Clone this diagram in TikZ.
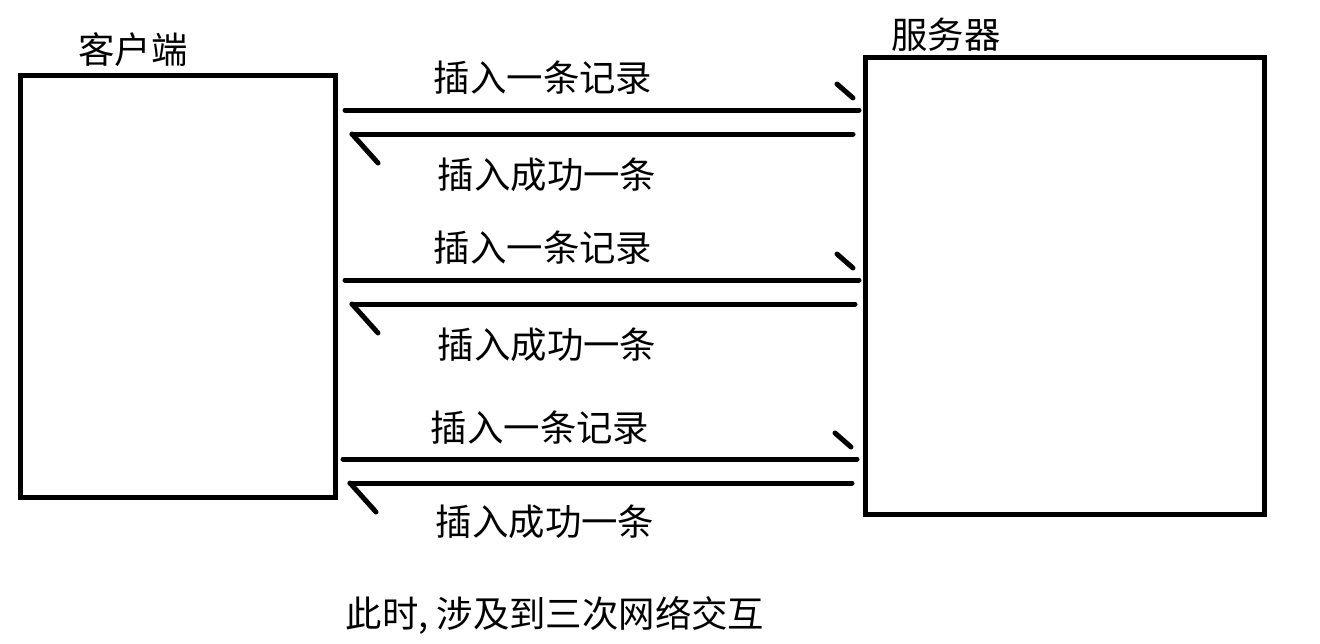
\documentclass[tikz,border=0pt]{standalone}
\usepackage{fontspec}
\setmainfont{Noto Sans CJK SC}
\begin{document}
\begin{tikzpicture}[x=0.75pt,y=-0.75pt,
  box/.style={draw,line width=3.75pt,inner sep=0pt},
  lbl/.style={inner sep=0pt,font=\fontsize{27.3}{31}\selectfont},
  msg/.style={line width=3.75pt,line cap=round},
  tip/.style={line width=3.75pt,line cap=round}]
\useasboundingbox (0,0) rectangle (1320,643);
\node[box,minimum width=236.25pt,minimum height=316.5pt] (client) at (178,286) {};
\node[box,minimum width=299.25pt,minimum height=342.4pt] (server) at (1064.5,286.25) {};
\node[lbl] (lc) at (133,50) {客户端};
\node[lbl] (ls) at (946,35) {服务器};
% row 1
\coordinate (r1a) at (345,110); \coordinate (r1b) at (859,110);
\coordinate (l1a) at (853,134); \coordinate (l1b) at (352,134);
% row 2
\coordinate (r2a) at (345,280); \coordinate (r2b) at (859,280);
\coordinate (l2a) at (855,304); \coordinate (l2b) at (352,304);
% row 3
\coordinate (r3a) at (343,459); \coordinate (r3b) at (857,459);
\coordinate (l3a) at (852,483); \coordinate (l3b) at (350,483);
\foreach \i in {1,2,3}{
  \draw[msg] (r\i a) -- (r\i b);
  \draw[tip] ([shift={(-22,-26)}]r\i b) -- ([shift={(-6,-12)}]r\i b);
  \draw[msg] (l\i a) -- (l\i b);
  \draw[tip] (l\i b) -- ([shift={(26,29)}]l\i b);
}
\node[lbl] (t1) at (543,78) {插入一条记录};
\node[lbl] (u1) at (547,175) {插入成功一条};
\node[lbl] (t2) at (543,248) {插入一条记录};
\node[lbl] (u2) at (547,345) {插入成功一条};
\node[lbl] (t3) at (540,428) {插入一条记录};
\node[lbl] (u3) at (545,522) {插入成功一条};
\node[lbl] (note) at (555,615) {此时,\ 涉及到三次网络交互};
\end{tikzpicture}
\end{document}
